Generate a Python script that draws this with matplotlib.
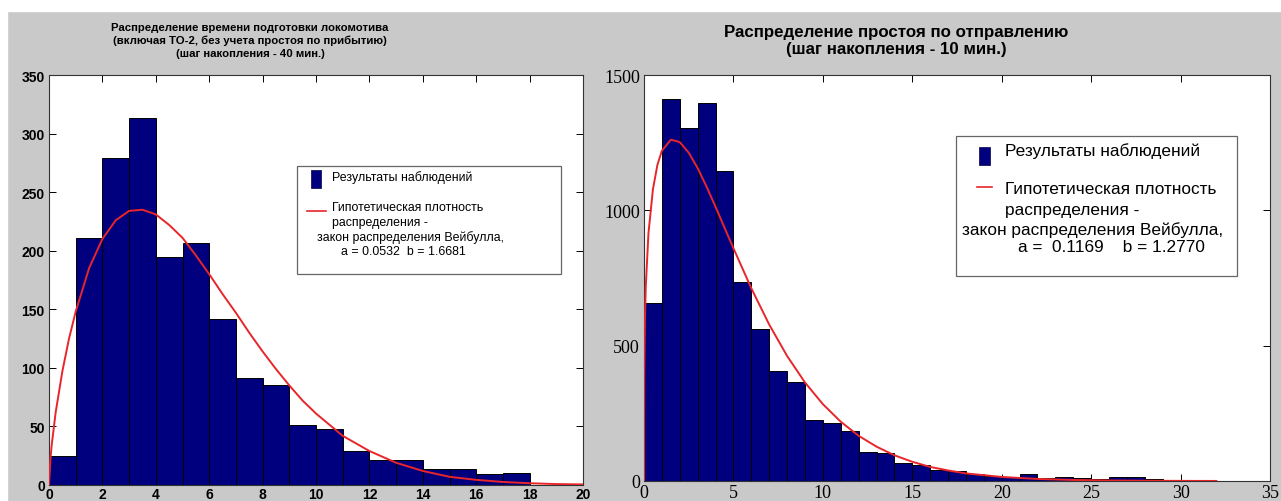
import numpy as np
import matplotlib
matplotlib.use('Agg')
import matplotlib.pyplot as plt
from matplotlib.patches import Rectangle
from matplotlib.lines import Line2D

# left panel: locomotive preparation time, 40 min bins
left_counts = [25, 211, 279, 313, 195, 207, 142, 91, 85, 51, 48, 29, 21, 21, 14, 14, 9, 10]
left_curve_x = [0, 0.05, 0.1, 0.25, 0.5, 0.75, 1, 1.5, 2, 2.5, 3, 3.5, 4, 4.5, 5, 5.5, 6, 6.5,
                7, 7.5, 8, 8.5, 9, 9.5, 10, 11, 12, 13, 14, 15, 16, 17, 18, 19, 20]
left_curve_y = [0, 21, 34, 62, 97, 125, 148, 185, 210, 226, 234, 235, 231, 222, 211, 196, 180, 163,
                147, 130, 114, 99, 85, 72, 61, 42, 29, 19, 12, 7, 4.4, 2.6, 1.5, 0.8, 0.5]
left_xticks = list(range(0, 21, 2))
left_yticks = list(range(0, 351, 50))

# right panel: departure idle time, 10 min bins
right_counts = [659, 1413, 1303, 1398, 1145, 735, 563, 406, 366, 225, 213, 185, 108, 105, 65, 58,
                41, 38, 26, 20, 15, 26, 11, 13, 10, 7, 14, 14, 9, 5, 4, 3]
right_curve_x = [0, 0.001, 0.01, 0.05, 0.1, 0.25, 0.5, 0.75, 1, 1.5, 2, 2.5, 3, 3.5, 4, 4.5, 5, 6,
                 7, 8, 9, 10, 11, 12, 13, 14, 15, 16, 17, 18, 20, 22, 24, 26, 28, 30, 32]
right_curve_y = [0, 202, 383, 595, 720, 916, 1078, 1168, 1220, 1261, 1252, 1213, 1156, 1087, 1013, 936, 860, 712,
                 578, 462, 364, 284, 219, 167, 127, 95, 71, 52, 39, 28, 15, 7.6, 3.8, 1.9, 0.9, 0.45, 0.2]
right_xticks = list(range(0, 36, 5))
right_yticks = [0, 500, 1000, 1500]

left_title = ("Распределение времени подготовки локомотива\n"
              "(включая ТО-2, без учета простоя по прибытию)\n"
              "(шаг накопления - 40 мин.)")
right_title = "Распределение простоя по отправлению\n(шаг накопления - 10 мин.)"
obs_label = "Результаты наблюдений"
fit_lines = ["Гипотетическая плотность", "распределения -", "закон распределения Вейбулла,"]
left_params = "a = 0.0532  b = 1.6681"
right_params = "a =  0.1169    b = 1.2770"

W, H = 1281, 502
NAVY = '#00007e'
RED = '#e8262a'
GRAY = '#c9c9c9'
SANS = ['Liberation Sans', 'DejaVu Sans']


def fx(x):
    return x / W


def fy(y):
    return 1 - y / H


def add_ax(fig, x0, y0, x1, y1):
    return fig.add_axes([fx(x0), fy(y1), (x1 - x0) / W, (y1 - y0) / H])


def draw_hist(ax, counts, cx, cy):
    edges = np.arange(len(counts))
    ax.bar(edges, counts, width=1, align='edge', color=NAVY, edgecolor='black', linewidth=0.7, zorder=2)
    ax.plot(cx, cy, color=RED, linewidth=1.4, zorder=3)
    ax.tick_params(direction='in', top=True, right=True, length=5, width=0.7)
    for s in ax.spines.values():
        s.set_linewidth(0.8)
        s.set_color('#333333')


def draw_legend(fig, box, patch, line, rows, size):
    bx0, by0, bx1, by1 = box
    fig.add_artist(Rectangle((fx(bx0), fy(by1)), (bx1 - bx0) / W, (by1 - by0) / H,
                             transform=fig.transFigure, facecolor='white', edgecolor='#666666', linewidth=0.9))
    px0, py0, px1, py1 = patch
    fig.add_artist(Rectangle((fx(px0), fy(py1)), (px1 - px0) / W, (py1 - py0) / H,
                             transform=fig.transFigure, facecolor=NAVY, edgecolor='#000044', linewidth=0.5))
    lx0, lx1, ly = line
    fig.add_artist(Line2D([fx(lx0), fx(lx1)], [fy(ly), fy(ly)], transform=fig.transFigure,
                          color=RED, linewidth=1.2))
    for x, y, s in rows:
        fig.text(fx(x), fy(y), s, ha='left', va='center', fontsize=size, family=SANS)


fig = plt.figure(figsize=(W / 100, H / 100), dpi=100, facecolor=GRAY)
fig.add_artist(Rectangle((0, fy(12)), 1, 12 / H, transform=fig.transFigure, color='white', zorder=0))
fig.add_artist(Rectangle((0, 0), fx(7), fy(12), transform=fig.transFigure, color='white', zorder=0))

# left chart
ax1 = add_ax(fig, 49, 76, 583, 486)
draw_hist(ax1, left_counts, left_curve_x, left_curve_y)
ax1.set_xlim(0, 20)
ax1.set_ylim(0, 350)
ax1.set_xticks(left_xticks)
ax1.set_yticks(left_yticks)
ax1.tick_params(axis='x', pad=1.5)
ax1.tick_params(axis='y', pad=3)
for lbl in ax1.get_xticklabels() + ax1.get_yticklabels():
    lbl.set_fontweight('bold')
    lbl.set_fontsize(10)
    lbl.set_family(SANS)
fig.text(fx(250), fy(41), left_title, ha='center', va='center', fontsize=8.2, fontweight='bold',
         linespacing=1.3, family=SANS)

draw_legend(fig, (297, 167, 561, 275), (311, 171, 321, 189), (307, 326, 212),
            [(332, 178, obs_label), (332, 208, fit_lines[0]), (332, 223, fit_lines[1]),
             (317, 238, fit_lines[2]), (341, 252, left_params)], 8.9)

# right chart
ax2 = add_ax(fig, 644, 76, 1270, 482)
draw_hist(ax2, right_counts, right_curve_x, right_curve_y)
ax2.set_xlim(0, 35)
ax2.set_ylim(0, 1500)
ax2.set_xticks(right_xticks)
ax2.set_yticks(right_yticks)
ax2.tick_params(axis='x', pad=2)
ax2.tick_params(axis='y', pad=3)
for lbl in ax2.get_xticklabels() + ax2.get_yticklabels():
    lbl.set_fontsize(13)
    lbl.set_family(['Liberation Serif'])
fig.text(fx(896), fy(41), right_title, ha='center', va='center', fontsize=12.2, fontweight='bold',
         linespacing=1.1, family=SANS)

draw_legend(fig, (956, 137, 1237, 277), (979, 148, 990, 166), (977, 992, 188),
            [(1005, 151, obs_label), (1005, 190, fit_lines[0]), (1005, 210, fit_lines[1]),
             (962, 230, fit_lines[2]), (1018, 248, right_params)], 12.4)

fig.savefig('out.png', dpi=100, facecolor=GRAY)
